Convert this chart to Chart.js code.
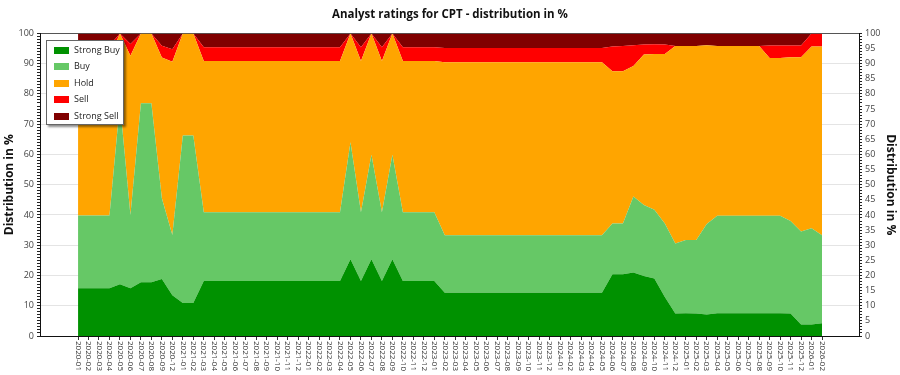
<!DOCTYPE html>
<html>
<head>
    <title>Analyst ratings for CPT</title>
    <script src="https://cdn.jsdelivr.net/npm/chart.js"></script>
    <style>
        body { margin: 0; background: #fff; font-family: "Open Sans", sans-serif; }
        #wrap { position: relative; width: 900px; height: 375px; }
        #legend {
            position: absolute; left: 46px; top: 40px; width: 76px; height: 83px;
            background: #fff; border: 1px solid #666;
            box-shadow: 2px 2px 2px rgba(0,0,0,0.45);
            font-size: 9px; color: #222;
        }
        .item { position: absolute; left: 7px; height: 12px; line-height: 12px; white-space: nowrap; }
        .swatch { display: inline-block; width: 15px; height: 7px; margin-right: 5px; vertical-align: -1px; }
    </style>
</head>
<body>
<div id="wrap">
    <canvas id="ratings"></canvas>
    <div id="legend"></div>
</div>

<script>
const months = [
    "2020-01","2020-02","2020-03","2020-04","2020-05","2020-06","2020-07","2020-08","2020-09","2020-12",
    "2021-01","2021-02","2021-03","2021-04","2021-05","2021-06","2021-07","2021-08","2021-09","2021-10","2021-11","2021-12",
    "2022-01","2022-02","2022-03","2022-04","2022-05","2022-06","2022-07","2022-08","2022-09","2022-10","2022-11","2022-12",
    "2023-01","2023-02","2023-03","2023-04","2023-05","2023-06","2023-07","2023-08","2023-09","2023-10","2023-11","2023-12",
    "2024-01","2024-02","2024-03","2024-04","2024-05","2024-06","2024-07","2024-08","2024-09","2024-10","2024-11","2024-12",
    "2025-01","2025-02","2025-03","2025-04","2025-05","2025-06","2025-07","2025-08","2025-09","2025-10","2025-11","2025-12",
    "2026-01","2026-02"
];

// share of each rating in % per month
const strongBuy = [
    15.8,15.8,15.8,15.8,17.1,15.8,17.8,17.8,18.8,13.5,
    10.9,10.9,18.2,18.2,18.2,18.2,18.2,18.2,18.2,18.2,
    18.2,18.2,18.2,18.2,18.2,18.2,25.4,18.2,25.4,18.2,
    25.4,18.2,18.2,18.2,18.2,14.3,14.3,14.3,14.3,14.3,
    14.3,14.3,14.3,14.3,14.3,14.3,14.3,14.3,14.3,14.3,
    14.3,20.4,20.4,21.0,19.8,19.0,12.9,7.4,7.5,7.4,
    7.1,7.5,7.5,7.5,7.5,7.5,7.5,7.5,7.4,3.8,
    3.8,4.2
];
const buy = [
    24.0,24.0,24.0,24.0,59.8,24.2,59.1,59.1,26.7,19.9,
    55.4,55.4,22.7,22.7,22.7,22.7,22.7,22.7,22.7,22.7,
    22.7,22.7,22.7,22.7,22.7,22.7,38.6,22.7,34.5,22.7,
    34.5,22.7,22.7,22.7,22.7,19.0,19.0,19.0,19.0,19.0,
    19.0,19.0,19.0,19.0,19.0,19.0,19.0,19.0,19.0,19.0,
    19.0,16.8,16.8,25.1,23.5,22.7,24.3,23.2,24.2,24.3,
    29.9,32.2,32.2,32.2,32.2,32.2,32.2,32.2,30.6,30.7,
    31.8,29.1
];
const hold = [
    52.2,52.2,52.2,52.2,23.1,52.6,23.1,23.1,46.5,57.2,
    33.7,33.7,50.0,50.0,50.0,50.0,50.0,50.0,50.0,50.0,
    50.0,50.0,50.0,50.0,50.0,50.0,36.0,50.0,40.1,50.0,
    40.1,50.0,50.0,50.0,50.0,57.2,57.2,57.2,57.2,57.2,
    57.2,57.2,57.2,57.2,57.2,57.2,57.2,57.2,57.2,57.2,
    57.2,50.3,50.3,43.1,49.7,51.5,56.0,65.2,64.1,64.1,
    59.1,56.1,56.1,56.1,56.1,56.1,52.2,52.2,54.1,57.6,
    60.1,62.4
];
const sell = [
    4.0,4.0,4.0,4.0,0,3.9,0,0,3.9,4.2,
    0,0,4.55,4.55,4.55,4.55,4.55,4.55,4.55,4.55,
    4.55,4.55,4.55,4.55,4.55,4.55,0,4.55,0,4.55,
    0,4.55,4.55,4.55,4.55,4.7,4.7,4.7,4.7,4.7,
    4.7,4.7,4.7,4.7,4.7,4.7,4.7,4.7,4.7,4.7,
    4.7,8.2,8.3,6.9,3.3,3.2,3.1,0,0,0,
    0,0,0,0,0,0,4.1,4.1,3.9,3.9,
    4.3,4.3
];
const strongSell = [
    4.0,4.0,4.0,4.0,0,3.5,0,0,4.1,5.2,
    0,0,4.55,4.55,4.55,4.55,4.55,4.55,4.55,4.55,
    4.55,4.55,4.55,4.55,4.55,4.55,0,4.55,0,4.55,
    0,4.55,4.55,4.55,4.55,4.8,4.8,4.8,4.8,4.8,
    4.8,4.8,4.8,4.8,4.8,4.8,4.8,4.8,4.8,4.8,
    4.8,4.3,4.2,3.9,3.7,3.6,3.7,4.2,4.2,4.2,
    3.9,4.2,4.2,4.2,4.2,4.2,4.0,4.0,4.0,4.0,
    0,0
];

const pts = arr => arr.map((v, i) => ({ x: i, y: v }));

function area(label, values, color, fill) {
    return {
        label: label,
        data: pts(values),
        backgroundColor: color,
        borderColor: color,
        borderWidth: 0,
        pointRadius: 0,
        tension: 0,
        fill: fill
    };
}

Chart.defaults.font.family = '"Open Sans", sans-serif';
Chart.defaults.color = '#333';

// vertical month labels, reading top to bottom
const monthLabels = {
    id: 'monthLabels',
    afterDraw(chart) {
        const sc = chart.scales.x;
        const ctx = chart.ctx;
        ctx.save();
        ctx.font = '8px "Open Sans"';
        ctx.fillStyle = '#333';
        ctx.textAlign = 'left';
        ctx.textBaseline = 'middle';
        months.forEach((m, i) => {
            ctx.save();
            ctx.translate(sc.getPixelForValue(i), sc.top + 5);
            ctx.rotate(Math.PI / 2);
            ctx.fillText(m, 0, 0);
            ctx.restore();
        });
        ctx.restore();
    }
};

const allTicks = n => Array.from({ length: n + 1 }, (_, i) => ({ value: i }));

const chart = new Chart(document.getElementById('ratings').getContext('2d'), {
    type: 'line',
    data: {
        datasets: [
            area('Strong Buy', strongBuy, '#009100', 'origin'),
            area('Buy', buy, '#66C866', '-1'),
            area('Hold', hold, '#FFA500', '-1'),
            area('Sell', sell, '#FF0000', '-1'),
            area('Strong Sell', strongSell, '#800000', '-1')
        ]
    },
    options: {
        responsive: true,
        maintainAspectRatio: false,
        animation: false,
        layout: { padding: 0 },
        plugins: {
            legend: { display: false },
            tooltip: { enabled: false },
            title: {
                display: true,
                text: 'Analyst ratings for CPT - distribution in %',
                color: '#111',
                font: { size: 11.5, weight: 'bold' },
                padding: { top: 8, bottom: 11.6 }
            }
        },
        scales: {
            x: {
                type: 'linear',
                min: -3.63,
                max: 74.53,
                bounds: 'data',
                afterBuildTicks: s => { s.ticks = allTicks(71); },
                afterFit: s => { s.height = 39; },
                ticks: { display: false },
                grid: { drawOnChartArea: false, tickLength: 4, tickColor: '#333' },
                border: { color: '#111' }
            },
            x2: {
                type: 'linear',
                position: 'top',
                min: 0,
                max: 1,
                afterFit: s => { s.height = 0; },
                ticks: { display: false },
                grid: { drawOnChartArea: false, drawTicks: false },
                border: { color: '#555' }
            },
            y: {
                stacked: true,
                min: 0,
                max: 100,
                afterBuildTicks: s => { s.ticks = allTicks(100); },
                afterFit: s => { s.width = 40; },
                ticks: {
                    autoSkip: false,
                    padding: 3,
                    font: { size: 9 },
                    color: '#444',
                    callback: v => (v % 10 === 0 ? v : '')
                },
                grid: {
                    tickLength: 3,
                    color: c => (c.tick && c.tick.value % 10 === 0 ? '#e4e4e4' : 'rgba(0,0,0,0)'),
                    tickColor: '#222'
                },
                border: { color: '#111' },
                title: {
                    display: true,
                    text: 'Distribution in %',
                    color: '#111',
                    font: { size: 12, weight: 'bold' },
                    padding: { top: 2, bottom: 2 }
                }
            },
            y2: {
                position: 'right',
                min: 0,
                max: 100,
                afterBuildTicks: s => { s.ticks = allTicks(100); },
                afterFit: s => { s.width = 41; },
                ticks: {
                    autoSkip: false,
                    padding: 3,
                    font: { size: 9 },
                    color: '#444',
                    callback: v => (v % 5 === 0 ? v : '')
                },
                grid: { drawOnChartArea: false, tickLength: 3, tickColor: '#222' },
                border: { color: '#111' },
                title: {
                    display: true,
                    text: 'Distribution in %',
                    color: '#111',
                    font: { size: 12, weight: 'bold' },
                    padding: { top: 2, bottom: 2 }
                }
            }
        }
    },
    plugins: [monthLabels]
});

// legend box drawn over the top left of the plot
const legendBox = document.getElementById('legend');
chart.data.datasets.forEach((ds, i) => {
    const item = document.createElement('div');
    item.className = 'item';
    item.style.top = (3 + i * 16.4) + 'px';
    item.innerHTML = '<span class="swatch" style="background:' + ds.backgroundColor + '"></span>' + ds.label;
    legendBox.appendChild(item);
});
</script>
</body>
</html>
